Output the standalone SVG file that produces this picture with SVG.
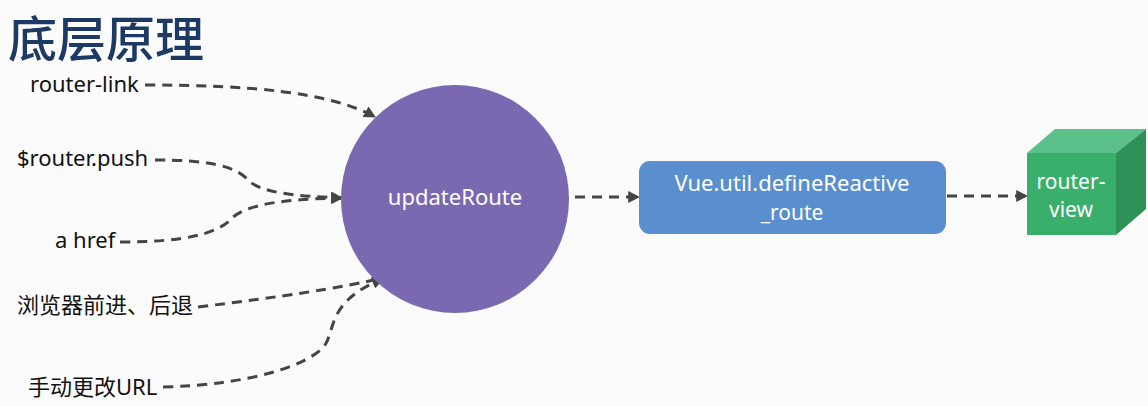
<svg xmlns="http://www.w3.org/2000/svg" width="1148" height="406" viewBox="0 0 1148 406">
<style>
  .lbl { font-family: "Noto Sans", "Noto Sans CJK SC", sans-serif; font-size: 22px; fill: #111111; }
  .wt { font-family: "Noto Sans", "Noto Sans CJK SC", sans-serif; font-size: 22px; fill: #ffffff; text-anchor: middle; }
  .wt2 { font-family: "Noto Sans", "Noto Sans CJK SC", sans-serif; font-size: 21px; fill: #ffffff; text-anchor: middle; }
  .title { font-family: "Noto Sans CJK SC", sans-serif; font-size: 49px; font-weight: 500; fill: #1c3a63; }
  .conn { fill: none; stroke: #444444; stroke-width: 3; stroke-dasharray: 10 7; }
</style>
<defs>
  <marker id="arr" viewBox="0 0 10 10" refX="9" refY="5" markerWidth="4" markerHeight="4" orient="auto" markerUnits="strokeWidth">
    <path d="M0,0 L10,5 L0,10 Z" fill="#444444"/>
  </marker>
</defs>
<rect x="0" y="0" width="1148" height="406" fill="#fbfbfb"/>
<text class="title" x="8" y="57">底层原理</text>

<g id="connectors">
  <path class="conn" d="M145,85 C250,85 330,92 375,117" marker-end="url(#arr)"/>
  <path class="conn" d="M155,160 C205,160 235,165 248,180 C260,192 290,196 342,198" marker-end="url(#arr)"/>
  <path class="conn" d="M120,242 C180,242 215,235 230,220 C245,203 290,199 342,198" marker-end="url(#arr)"/>
  <path class="conn" d="M198,307 C280,297 340,288 383,278" marker-end="url(#arr)"/>
  <path class="conn" d="M163,387 C250,385 310,365 325,345 C335,330 328,300 383,279" marker-end="url(#arr)"/>
  <path class="conn" d="M575,197 L639,197" marker-end="url(#arr)"/>
  <path class="conn" d="M947,196 L1027,196" marker-end="url(#arr)"/>
</g>

<g id="src-router-link"><text class="lbl" x="30" y="92">router-link</text></g>
<g id="src-router-push"><text class="lbl" x="17" y="166">$router.push</text></g>
<g id="src-a-href"><text class="lbl" x="55" y="248">a href</text></g>
<g id="src-browser"><text class="lbl" x="17" y="313">浏览器前进、后退</text></g>
<g id="src-manual"><text class="lbl" x="28" y="395">手动更改URL</text></g>

<g id="updateRoute">
  <ellipse cx="455" cy="199" rx="114" ry="114" fill="#7a68b0"/>
  <text class="wt" x="455" y="205">updateRoute</text>
</g>

<g id="defineReactive">
  <rect x="639" y="161" width="307" height="73" rx="11" fill="#5a8fcf"/>
  <text class="wt" x="792" y="191">Vue.util.defineReactive</text>
  <text class="wt2" x="792" y="220">_route</text>
</g>

<g id="router-view">
  <polygon points="1027,153 1055,129 1146,129 1116,153" fill="#5cc08a"/>
  <polygon points="1116,153 1146,129 1146,209 1116,235" fill="#2e9158"/>
  <rect x="1027" y="153" width="89" height="82" fill="#3aaf6c"/>
  <text class="wt2" x="1071" y="189">router-</text>
  <text class="wt2" x="1071" y="217">view</text>
</g>
</svg>
